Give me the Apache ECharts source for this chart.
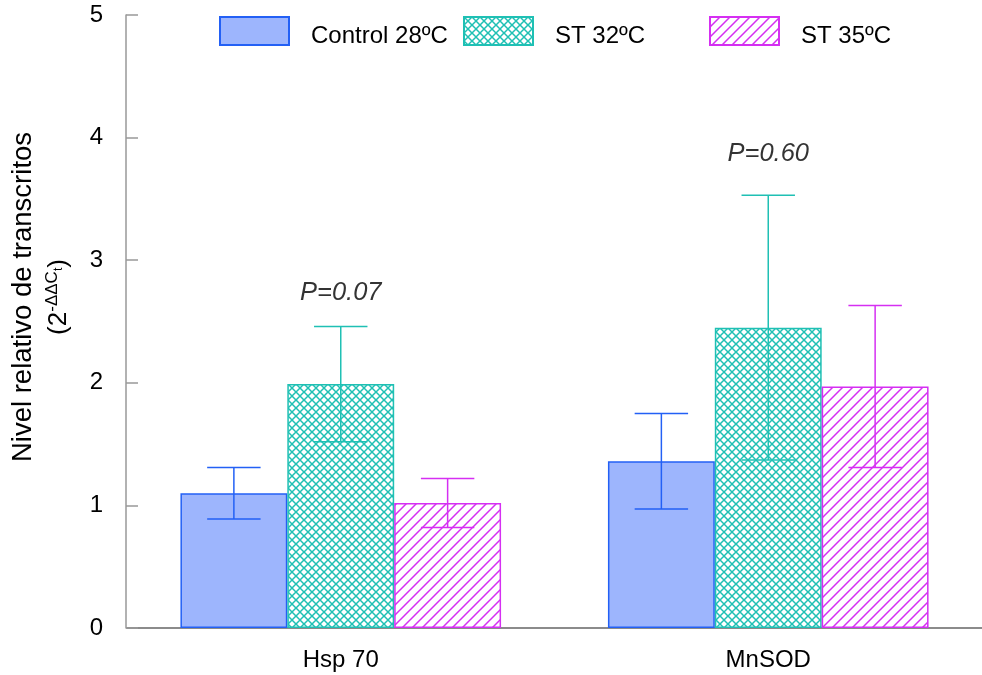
<!DOCTYPE html>
<html>
<head>
<meta charset="utf-8">
<script src="https://cdn.jsdelivr.net/npm/echarts@6/dist/echarts.min.js"></script>
<style>html,body{margin:0;padding:0;background:#fff}#c{width:982px;height:675px}</style>
</head>
<body>
<div id="c"></div>
<script>
const categories = ['Hsp 70', 'MnSOD'];
const seriesNames = ['Control 28ºC', 'ST 32ºC', 'ST 35ºC'];
const controlVals = [1.10, 1.36];
const controlSd = [0.21, 0.39];
const st32Vals = [1.99, 2.45];
const st32Sd = [0.47, 1.08];
const st35Vals = [1.02, 1.97];
const st35Sd = [0.20, 0.66];
const pLabels = ['P=0.07', 'P=0.60'];
const pLabelY = [2.73, 3.87];
const yTicks = [0, 1, 2, 3, 4, 5];

const FONT = '"Liberation Sans", Arial, sans-serif';
const BLUE_FILL = '#9db5fd', BLUE = '#2360f5', TEAL = '#1fc0b4', MAG = '#d52ff2';

function makePattern(type, color, size) {
  const c = document.createElement('canvas');
  c.width = size; c.height = size;
  const g = c.getContext('2d');
  g.fillStyle = '#fff'; g.fillRect(0, 0, size, size);
  g.strokeStyle = color; g.lineWidth = 1.5;
  g.beginPath();
  if (type === 'cross') {
    g.moveTo(-1, -1); g.lineTo(size + 1, size + 1);
    g.moveTo(-1, size + 1); g.lineTo(size + 1, -1);
  } else {
    g.moveTo(-1, size + 1); g.lineTo(size + 1, -1);
    g.moveTo(-1, 1); g.lineTo(1, -1);
    g.moveTo(size - 1, size + 1); g.lineTo(size + 1, size - 1);
  }
  g.stroke();
  return { image: c, repeat: 'repeat' };
}
const crossPat = makePattern('cross', TEAL, 8);
const hatchPat = makePattern('hatch', MAG, 10);

const styles = [
  { color: BLUE_FILL, borderColor: BLUE, borderWidth: 1.5 },
  { color: crossPat, borderColor: TEAL, borderWidth: 1.5 },
  { color: hatchPat, borderColor: MAG, borderWidth: 1.5 }
];
const lineColors = [BLUE, TEAL, MAG];
const vals = [controlVals, st32Vals, st35Vals];
const sds = [controlSd, st32Sd, st35Sd];

const series = [];
for (let i = 0; i < 3; i++) {
  series.push({
    name: seriesNames[i], type: 'bar', data: vals[i],
    barWidth: '25%', barGap: '0%', itemStyle: styles[i], z: 2
  });
}
for (let i = 0; i < 3; i++) {
  const off = i - 1;
  series.push({
    type: 'custom', z: 5, silent: true,
    data: categories.map((c, k) => [k, vals[i][k], sds[i][k]]),
    renderItem: function (params, api) {
      const ci = api.value(0), v = api.value(1), sd = api.value(2);
      const band = api.size([1, 0])[0];
      const bw = band * 0.25;
      const cx = api.coord([ci, v])[0] + off * bw;
      const yT = api.coord([ci, v + sd])[1];
      const yB = api.coord([ci, v - sd])[1];
      const h = bw / 4;
      const st = { stroke: lineColors[i], lineWidth: 1.5 };
      return { type: 'group', children: [
        { type: 'line', shape: { x1: cx, y1: yT, x2: cx, y2: yB }, style: st },
        { type: 'line', shape: { x1: cx - h, y1: yT, x2: cx + h, y2: yT }, style: st },
        { type: 'line', shape: { x1: cx - h, y1: yB, x2: cx + h, y2: yB }, style: st }
      ]};
    }
  });
}
series.push({
  type: 'scatter', symbolSize: 0, silent: true, z: 6,
  data: categories.map((c, k) => ({ value: [k, pLabelY[k]], name: pLabels[k] })),
  label: { show: true, position: 'inside', formatter: '{b}', color: '#000',
    fontSize: 25.5, fontStyle: 'italic', fontFamily: FONT }
});

const legendLefts = [219, 463, 709];
const legends = seriesNames.map((n, i) => ({
  data: [n], left: legendLefts[i], top: 16, padding: 0, itemWidth: 69, itemHeight: 28,
  icon: 'rect', selectedMode: false,
  formatter: name => '{a|' + name + '}',
  textStyle: { color: '#000', rich: { a: { fontSize: 24, fontFamily: FONT, color: '#000', padding: [10, 0, 0, 17] } } }
}));

const chart = echarts.init(document.getElementById('c'), null, { renderer: 'canvas' });
chart.setOption({
  animation: false,
  backgroundColor: '#fff',
  legend: legends,
  grid: { left: 127, right: 0, top: 15, bottom: 47 },
  xAxis: {
    type: 'category', data: categories,
    axisLine: { lineStyle: { color: '#666', width: 1.5 } },
    axisTick: { show: false },
    axisLabel: { color: '#000', fontSize: 24, fontFamily: FONT, margin: 20 }
  },
  yAxis: {
    type: 'value', min: yTicks[0], max: yTicks[yTicks.length - 1], interval: 1,
    offset: 1,
    axisLine: { show: true, lineStyle: { color: '#999', width: 1.5 } },
    axisTick: { show: true, inside: true, length: 12, lineStyle: { color: '#999', width: 1.5 } },
    splitLine: { show: false },
    axisLabel: { color: '#000', fontSize: 24, fontFamily: FONT, margin: 23, padding: [8, 0, 0, 0],
      formatter: v => yTicks.includes(v) ? String(v) : '' }
  },
  graphic: [
    { type: 'text', x: 23, y: 297, rotation: Math.PI / 2,
      style: { text: 'Nivel relativo de transcritos', font: '27.5px ' + FONT, fill: '#000',
        align: 'center', verticalAlign: 'middle' } },
    { type: 'text', x: 59, y: 297, rotation: Math.PI / 2,
      style: { text: '{a|(2}{s|-ΔΔC}{t|t}{a|)}', fill: '#000', align: 'center', verticalAlign: 'middle',
        rich: {
          a: { fontSize: 26, fontFamily: FONT, fill: '#000', lineHeight: 30 },
          s: { fontSize: 17, fontFamily: FONT, fill: '#000', verticalAlign: 'top', lineHeight: 30 },
          t: { fontSize: 12, fontFamily: FONT, fill: '#000', verticalAlign: 'middle', lineHeight: 30 }
        } } }
  ],
  series: series
});
</script>
</body>
</html>
